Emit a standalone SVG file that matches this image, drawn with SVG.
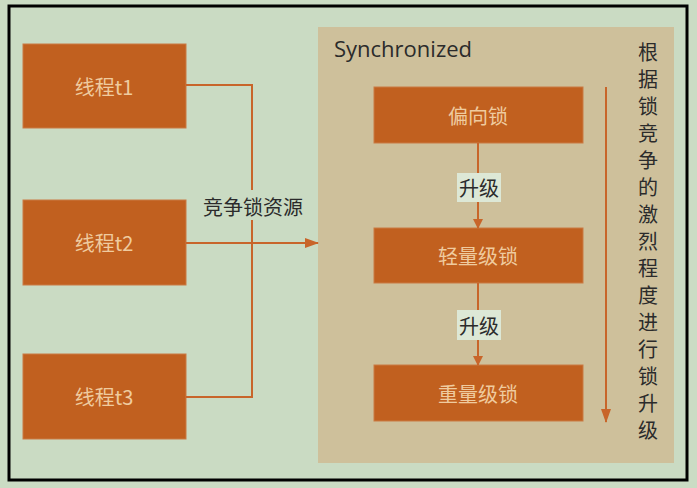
<svg xmlns="http://www.w3.org/2000/svg" width="697" height="488" viewBox="0 0 697 488">
<style>
.box{fill:#c1601f;stroke:#c97a45;stroke-width:1}
.bt{font-family:"Noto Sans CJK SC","Liberation Sans",sans-serif;font-size:20px;fill:#efcb9f;text-anchor:middle;dominant-baseline:central}
.lbl{font-family:"Noto Sans CJK SC","Liberation Sans",sans-serif;font-size:20px;fill:#2b2b2b;text-anchor:middle;dominant-baseline:central}
.ln{stroke:#c8652a;stroke-width:2;fill:none}
.vt{font-family:"Noto Sans CJK SC",sans-serif;font-size:20px;fill:#2b2b2b;writing-mode:vertical-rl;letter-spacing:7px}
</style>
<defs>
<marker id="ah" markerWidth="10" markerHeight="10" refX="9" refY="5" orient="auto" markerUnits="userSpaceOnUse">
<path d="M0,0 L10,5 L0,10 Z" fill="#c8652a"/>
</marker>
<marker id="ahl" markerWidth="14" markerHeight="10" refX="13" refY="5" orient="auto" markerUnits="userSpaceOnUse">
<path d="M0,0 L14,5 L0,10 Z" fill="#c8652a"/>
</marker>
</defs>
<rect x="0" y="0" width="697" height="488" fill="#cbdcc4"/>
<rect x="9" y="6" width="678" height="474" fill="#cadbc3" stroke="#000" stroke-width="3"/>
<g id="sync">
<rect x="318" y="27" width="356" height="436" fill="#cec09b"/>
<text x="334" y="48" font-family="Open Sans,'Noto Sans',sans-serif" font-size="22" fill="#2b2b2b" dominant-baseline="central">Synchronized</text>
</g>
<g id="t1"><rect class="box" x="23" y="44" width="163" height="84"/><text class="bt" x="104" y="86">线程t1</text></g>
<g id="t2"><rect class="box" x="23" y="200" width="163" height="85"/><text class="bt" x="104" y="242">线程t2</text></g>
<g id="t3"><rect class="box" x="23" y="354" width="163" height="85"/><text class="bt" x="104" y="396">线程t3</text></g>
<g id="biased"><rect class="box" x="374" y="87" width="209" height="56"/><text class="bt" x="478" y="115">偏向锁</text></g>
<g id="light"><rect class="box" x="374" y="228" width="209" height="55"/><text class="bt" x="478" y="255">轻量级锁</text></g>
<g id="heavy"><rect class="box" x="374" y="365" width="209" height="56"/><text class="bt" x="478" y="393">重量级锁</text></g>
<g id="connectors">
<polyline class="ln" points="186,85 252,85 252,397 186,397"/>
<line class="ln" x1="186" y1="243" x2="318" y2="243" marker-end="url(#ahl)"/>
<line class="ln" x1="478" y1="143" x2="478" y2="228" marker-end="url(#ah)"/>
<line class="ln" x1="478" y1="283" x2="478" y2="365" marker-end="url(#ah)"/>
<line class="ln" x1="606" y1="87" x2="606" y2="422" marker-end="url(#ahl)"/>
</g>
<g id="labels">
<rect x="199" y="190" width="108" height="30" fill="#cadbc3"/>
<text class="lbl" x="253" y="206">竞争锁资源</text>
<rect x="457" y="173" width="44" height="29" fill="#dde8d6"/>
<text class="lbl" x="479" y="187">升级</text>
<rect x="457" y="310" width="44" height="30" fill="#dde8d6"/>
<text class="lbl" x="479" y="325">升级</text>
</g>
<g id="vtext">
<text class="vt" x="648" y="42">根据锁竞争的激烈程度进行锁升级</text>
</g>
</svg>
